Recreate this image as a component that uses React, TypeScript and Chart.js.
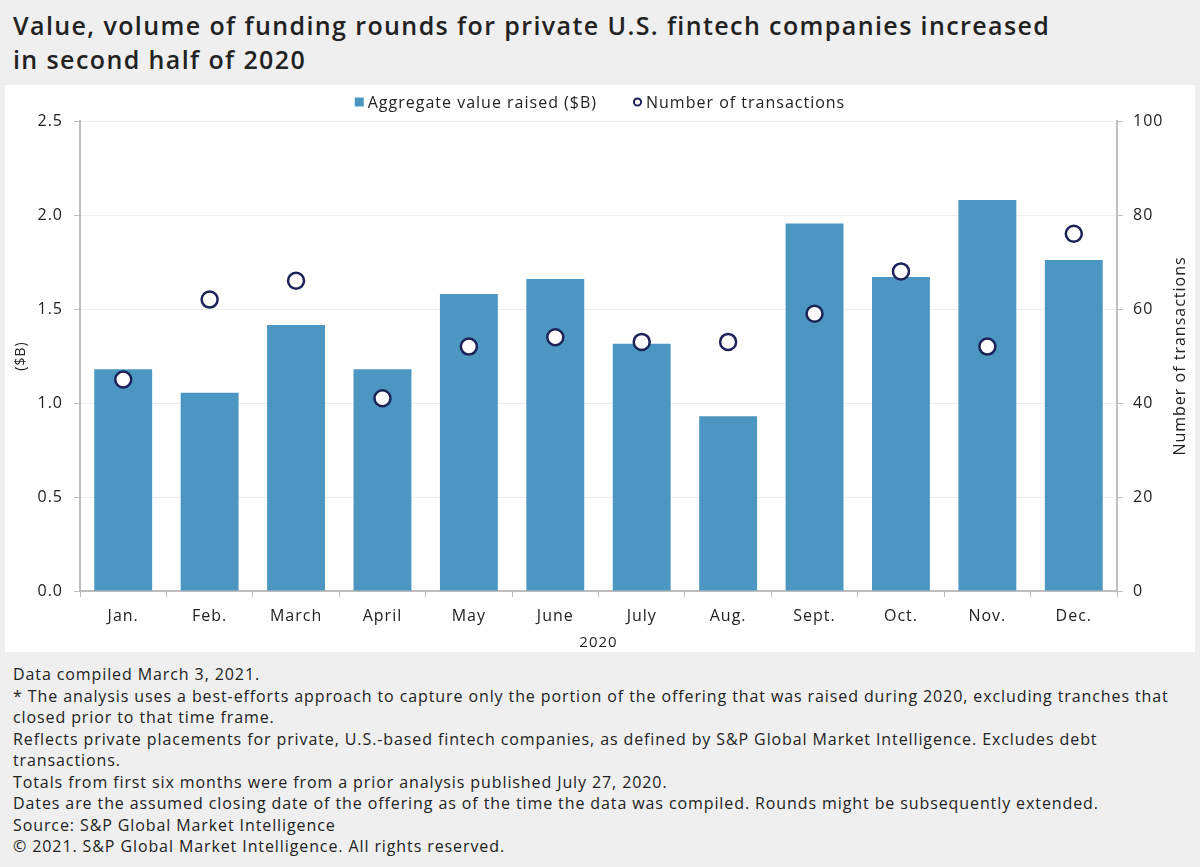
import React, { useEffect, useRef } from "react";
import { Chart, registerables } from "chart.js";

Chart.register(...registerables);

const categories = ["Jan.", "Feb.", "March", "April", "May", "June", "July", "Aug.", "Sept.", "Oct.", "Nov.", "Dec."];
const aggregateValue = [1.18, 1.055, 1.415, 1.18, 1.58, 1.66, 1.315, 0.93, 1.955, 1.67, 2.08, 1.76];
const transactions = [45, 62, 66, 41, 52, 54, 53, 53, 59, 68, 52, 76];
const yearLabel = "2020";
const leftAxisTitle = "($B)";
const rightAxisTitle = "Number of transactions";
const seriesNames = ["Aggregate value raised ($B)", "Number of transactions"];
const titleLines = [
  "Value, volume of funding rounds for private U.S. fintech companies increased",
  "in second half of 2020",
];
const footnotes = [
  "Data compiled March 3, 2021.",
  "* The analysis uses a best-efforts approach to capture only the portion of the offering that was raised during 2020, excluding tranches that",
  "closed prior to that time frame.",
  "Reflects private placements for private, U.S.-based fintech companies, as defined by S&P Global Market Intelligence. Excludes debt",
  "transactions.",
  "Totals from first six months were from a prior analysis published July 27, 2020.",
  "Dates are the assumed closing date of the offering as of the time the data was compiled. Rounds might be subsequently extended.",
  "Source: S&P Global Market Intelligence",
  "\u00a9 2021. S&P Global Market Intelligence. All rights reserved.",
];

const FONT = "'Open Sans', Roboto, sans-serif";
const TEXT = "#222222";
const AXIS = "#bdbdbd";
const BAR = "#4b97c2";
const DOT = "#1d2258";
const SPACING = "1px";

const spacingPlugin = {
  id: "spacing",
  beforeUpdate(chart: any) {
    chart.ctx.letterSpacing = SPACING;
  },
  beforeDraw(chart: any) {
    chart.ctx.letterSpacing = SPACING;
  },
};

const decorPlugin = {
  id: "decor",
  afterDraw(chart: any) {
    const { ctx, chartArea, width } = chart;
    ctx.save();
    ctx.letterSpacing = SPACING;
    // right axis title, reading bottom to top
    ctx.font = `16px ${FONT}`;
    ctx.fillStyle = TEXT;
    ctx.textAlign = "center";
    ctx.textBaseline = "middle";
    ctx.save();
    ctx.translate(1175, (chartArea.top + chartArea.bottom) / 2);
    ctx.rotate(-Math.PI / 2);
    ctx.fillText(rightAxisTitle, 0, 0);
    ctx.restore();

    // legend
    ctx.font = `16px ${FONT}`;
    ctx.textAlign = "left";
    const w1 = ctx.measureText(seriesNames[0]).width;
    const w2 = ctx.measureText(seriesNames[1]).width;
    const box = 9;
    const gapMarker = 4;
    const gapItems = 36;
    const total = box + gapMarker + w1 + gapItems + box + gapMarker + w2;
    let x = width / 2 - total / 2;
    const y = 17;
    const ds0 = chart.data.datasets[0];
    const ds1 = chart.data.datasets[1];
    ctx.fillStyle = ds0.backgroundColor;
    ctx.fillRect(x, y - box / 2, box, box);
    x += box + gapMarker;
    ctx.fillStyle = TEXT;
    ctx.fillText(seriesNames[0], x, y + 1);
    x += w1 + gapItems;
    ctx.beginPath();
    ctx.arc(x + box / 2, y, 3.6, 0, Math.PI * 2);
    ctx.fillStyle = "#ffffff";
    ctx.fill();
    ctx.lineWidth = 2;
    ctx.strokeStyle = ds1.pointBorderColor;
    ctx.stroke();
    x += box + gapMarker;
    ctx.fillStyle = TEXT;
    ctx.fillText(seriesNames[1], x, y + 1);
    ctx.restore();
  },
};

export default function App() {
  const ref = useRef<HTMLCanvasElement | null>(null);

  useEffect(() => {
    if (!ref.current) return;
    const chart = new Chart(ref.current, {
      data: {
        labels: categories,
        datasets: [
          {
            type: "bar",
            label: seriesNames[0],
            data: aggregateValue,
            backgroundColor: BAR,
            barPercentage: 0.67,
            categoryPercentage: 1,
            yAxisID: "y",
            order: 2,
          },
          {
            type: "line",
            label: seriesNames[1],
            data: transactions,
            showLine: false,
            pointRadius: 8,
            pointBorderWidth: 2.5,
            pointBackgroundColor: "#ffffff",
            pointBorderColor: DOT,
            backgroundColor: "#ffffff",
            borderColor: DOT,
            yAxisID: "y1",
            order: 1,
          },
        ],
      } as any,
      options: {
        animation: false,
        responsive: true,
        maintainAspectRatio: false,
        layout: { padding: { top: 36, bottom: 0, left: 0, right: 0 } },
        plugins: {
          tooltip: { enabled: false },
          legend: { display: false },
        },
        scales: {
          x: {
            offset: true,
            grid: { drawOnChartArea: false, offset: true, color: AXIS, tickColor: AXIS, tickLength: 6 },
            border: { color: AXIS, width: 2 },
            ticks: { color: TEXT, font: { family: FONT, size: 16 }, padding: 10 },
            title: { display: true, text: yearLabel, color: TEXT, font: { family: FONT, size: 15 }, padding: { top: 0, bottom: 0 } },
            afterFit: (s: any) => { s.height = 61; },
          },
          y: {
            position: "left",
            min: 0,
            max: 2.5,
            ticks: {
              stepSize: 0.5,
              color: TEXT,
              font: { family: FONT, size: 16 },
              padding: 11,
              callback: (v: any) => Number(v).toFixed(1),
            },
            grid: { color: "#ececec", tickColor: AXIS, tickLength: 6 },
            border: { color: AXIS, width: 2 },
            title: { display: true, text: leftAxisTitle, color: TEXT, font: { family: FONT, size: 14 }, padding: { top: 8, bottom: 0 } },
            afterFit: (s: any) => { s.width = 75; },
          },
          y1: {
            position: "right",
            min: 0,
            max: 100,
            ticks: { stepSize: 20, color: TEXT, font: { family: FONT, size: 16 }, padding: 10 },
            grid: { drawOnChartArea: false, color: AXIS, tickColor: AXIS, tickLength: 6 },
            border: { color: AXIS, width: 2 },
            afterFit: (s: any) => { s.width = 78; },
          },
        },
      } as any,
      plugins: [spacingPlugin, decorPlugin],
    });
    return () => chart.destroy();
  }, []);

  return (
    <div style={{ position: "fixed", left: 0, top: 0, width: 1200, height: 867, background: "#efefef", fontFamily: FONT, color: TEXT, overflow: "hidden" }}>
      <div style={{ position: "absolute", left: 13, top: 8, fontSize: 25, fontWeight: 600, lineHeight: "34px", letterSpacing: "1.4px", color: "#222", whiteSpace: "nowrap" }}>
        {titleLines.map((t, i) => (
          <div key={i}>{t}</div>
        ))}
      </div>
      <div style={{ position: "absolute", left: 5, top: 85, width: 1190, height: 567, background: "#ffffff" }}>
        <canvas ref={ref} />
      </div>
      <div style={{ position: "absolute", left: 13, top: 664, fontSize: 16, lineHeight: "21.5px", letterSpacing: "0.9px", color: "#222" }}>
        {footnotes.map((t, i) => (
          <div key={i} style={{ whiteSpace: "nowrap" }}>{t}</div>
        ))}
      </div>
    </div>
  );
}
